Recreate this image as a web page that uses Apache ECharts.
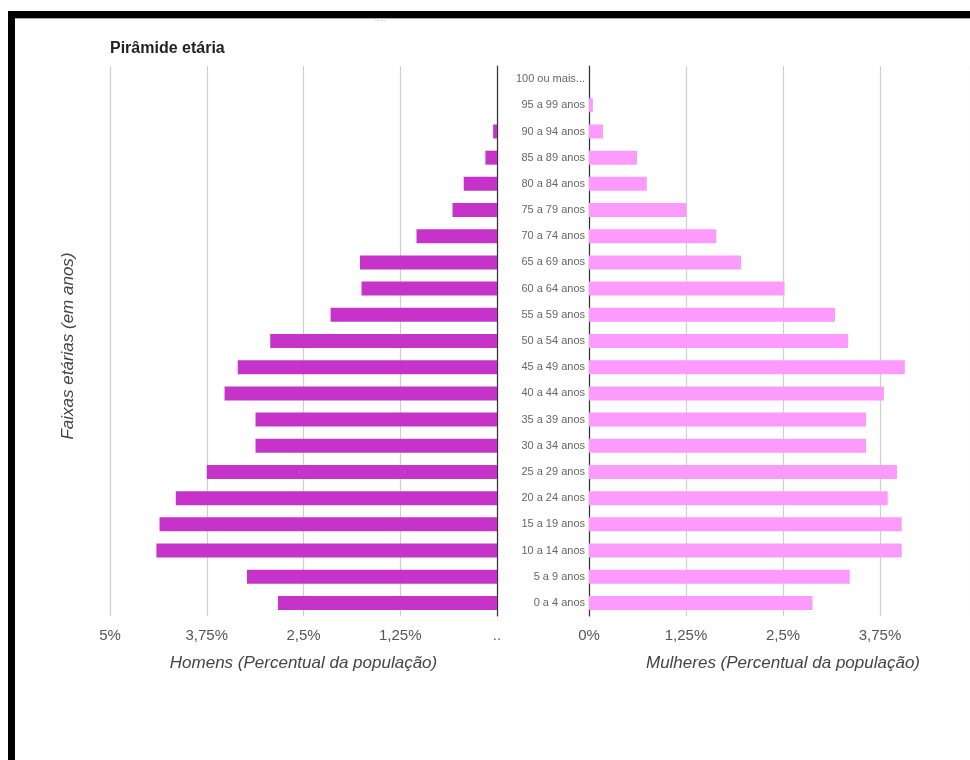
<!DOCTYPE html>
<html><head><meta charset="utf-8">
<script src="https://cdn.jsdelivr.net/npm/echarts@6/dist/echarts.min.js"></script>
<style>html,body{margin:0;padding:0;background:#fff}#chart{width:970px;height:760px}</style>
</head><body><div id="chart"></div>
<script>
const categories = ['100 ou mais...','95 a 99 anos','90 a 94 anos','85 a 89 anos','80 a 84 anos','75 a 79 anos','70 a 74 anos','65 a 69 anos','60 a 64 anos','55 a 59 anos','50 a 54 anos','45 a 49 anos','40 a 44 anos','35 a 39 anos','30 a 34 anos','25 a 29 anos','20 a 24 anos','15 a 19 anos','10 a 14 anos','5 a 9 anos','0 a 4 anos'];
const homens = [0, 0, 0.05, 0.15, 0.43, 0.575, 1.04, 1.77, 1.75, 2.15, 2.93, 3.35, 3.52, 3.12, 3.12, 3.75, 4.15, 4.36, 4.40, 3.23, 2.83];
const mulheres = [0, 0.05, 0.18, 0.62, 0.745, 1.255, 1.64, 1.96, 2.52, 3.17, 3.34, 4.07, 3.80, 3.57, 3.57, 3.97, 3.85, 4.03, 4.03, 3.36, 2.88];
const homensTicks = ['..','1,25%','2,5%','3,75%','5%'];
const mulheresTicks = ['0%','1,25%','2,5%','3,75%','5%'];
const tickStep = 1.25;

const chart = echarts.init(document.getElementById('chart'), null, {renderer:'canvas'});
const font = '"Liberation Sans", Arial, sans-serif';
function xAx(idx, ticks, name, inverse, max, namePad){
  return {
    type:'value', gridIndex: idx, min:0, max:max, interval: tickStep, inverse: inverse,
    name: name, nameLocation:'middle', nameGap: 39,
    nameTextStyle:{fontStyle:'italic', fontSize:17, color:'#444', fontFamily: font, padding: namePad},
    axisLine:{show:false}, axisTick:{show:false},
    axisLabel:{margin:12, fontSize:15, color:'#555', fontFamily: font, showMaxLabel: idx===0,
      formatter: v => { const i = Math.round(v/tickStep); return Math.abs(i*tickStep - v) < 1e-6 ? ticks[i] : ''; }},
    splitLine:{show:true, lineStyle:{color:'#cfcfcf', width:1.2}}
  };
}
chart.setOption({
  animation:false,
  backgroundColor:'#fff',
  title:{text:'Pirâmide etária', left:105, top:36, textStyle:{fontSize:16, fontWeight:'bold', color:'#222', fontFamily: font}},
  grid:[
    {left:110, width:387, top:66, height:550},
    {left:589, width:381, top:66, height:550}
  ],
  xAxis:[
    xAx(0, homensTicks, 'Homens (Percentual da população)', true, 5, [0,0,0,0]),
    xAx(1, mulheresTicks, 'Mulheres (Percentual da população)', false, 4.91, [0,0,0,7])
  ],
  yAxis:[
    {type:'category', gridIndex:0, data:categories, inverse:true, position:'right',
     axisLine:{show:true, onZero:false, lineStyle:{color:'#333', width:1.2}}, axisTick:{show:false}, axisLabel:{show:false}},
    {type:'category', gridIndex:1, data:categories, inverse:true, position:'left',
     axisLine:{show:true, onZero:false, lineStyle:{color:'#333', width:1.2}}, axisTick:{show:false},
     axisLabel:{show:true, margin:4, fontSize:11, color:'#666', fontFamily: font}}
  ],
  series:[
    {type:'bar', name:'Homens', xAxisIndex:0, yAxisIndex:0, data:homens, barWidth:14, itemStyle:{color:'#c633c9'}},
    {type:'bar', name:'Mulheres', xAxisIndex:1, yAxisIndex:1, data:mulheres, barWidth:14, itemStyle:{color:'#fd9afd'}}
  ],
  graphic:[
    {type:'rect', shape:{x:8, y:11, width:962, height:7}, style:{fill:'#000'}, z:10},
    {type:'rect', shape:{x:8, y:18, width:962, height:1}, style:{fill:'#aaa'}, z:10},
    {type:'rect', shape:{x:8, y:11, width:7, height:749}, style:{fill:'#000'}, z:10},
    {type:'text', x:380, y:19, style:{text:'.....', fontSize:9, fill:'#bbb', textAlign:'center', textVerticalAlign:'middle'}, z:5},
    {type:'text', x:68, y:346, rotation:Math.PI/2,
     style:{text:'Faixas etárias (em anos)', fontSize:17, fontStyle:'italic', fill:'#444', fontFamily: font, textAlign:'center', textVerticalAlign:'middle'}}
  ]
});
</script></body></html>
